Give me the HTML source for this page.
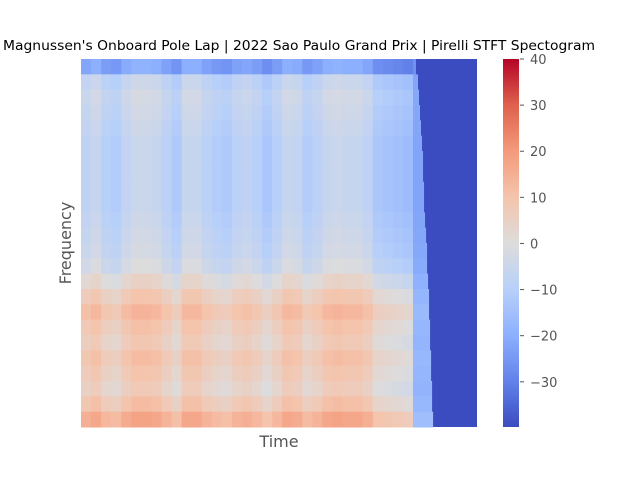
<!DOCTYPE html>
<html><head><meta charset="utf-8"><style>
body{margin:0;background:#fff}
svg text{font-family:"DejaVu Sans","Liberation Sans",sans-serif}
</style></head><body>
<svg id="chart" width="640" height="480" viewBox="0 0 640 480">
<text x="299" y="50" text-anchor="middle" font-size="13.5" textLength="592" lengthAdjust="spacingAndGlyphs" fill="#000">Magnussen's Onboard Pole Lap | 2022 Sao Paulo Grand Prix | Pirelli STFT Spectogram</text>
<rect x="81" y="59" width="396" height="368" fill="#3b4cc0"/>
<g id="cells"></g>
<text x="279" y="447" text-anchor="middle" font-size="16" fill="#555">Time</text>
<text transform="translate(71,243) rotate(-90)" text-anchor="middle" font-size="16" fill="#555">Frequency</text>
<defs><linearGradient id="cg" x1="0" y1="1" x2="0" y2="0">
<stop offset="0" stop-color="#3b4cc0"/><stop offset="0.125" stop-color="#6282ea"/><stop offset="0.25" stop-color="#8db0fe"/><stop offset="0.375" stop-color="#b8d0f9"/><stop offset="0.5" stop-color="#dddcdc"/><stop offset="0.625" stop-color="#f5c4ac"/><stop offset="0.75" stop-color="#f49a7b"/><stop offset="0.875" stop-color="#de614d"/><stop offset="1" stop-color="#b40426"/></linearGradient></defs>
<rect x="503" y="59" width="16" height="368" fill="url(#cg)"/>
<g id="cticks"></g>
</svg>
<script>
const rowBase=[-22,-7,-5,-6,-7,-8,-8,-8,-8,-8,-7,-6,-5,-3,2,7,11,8,6,9,7,5,9,15];
const colOffset=[0,2,-2,-3,1,3,3,2,-1,-4,2,2,-1,-3,-4,-1,0,-2,-5,-2,2,1,-3,-1,2,3,2,2,0,-5,-6,-7,-8];
const tailLen=[0.3,0.5,0.6,0.7,0.8,0.9,1.0,1.0,1.1,1.1,1.2,1.3,1.4,1.4,1.5,1.6,1.6,1.7,1.7,1.8,1.8,1.9,1.9,2.0];
const tailValue=-20;
const cbTicks=[40,30,20,10,0,-10,-20,-30];
const vmin=-39.8,vmax=40;
const X0=81,colW=10.06,Y0=59,H=368;
const rowH=H/rowBase.length;
const xCol=c=>X0+c*colW;
const yRow=r=>Y0+r*rowH;
const stops=[[59,76,192],[98,130,234],[141,176,254],[184,208,249],[221,220,220],[245,196,173],[244,154,123],[222,96,77],[180,4,38]];
function cmap(v){let t=(v-vmin)/(vmax-vmin);t=Math.max(0,Math.min(1,t))*8;const i=Math.min(7,Math.floor(t)),f=t-i;const a=stops[i],b=stops[i+1];return `rgb(${a.map((x,k)=>Math.round(x+(b[k]-x)*f)).join(',')})`;}
const NS='http://www.w3.org/2000/svg';
const g=document.getElementById('cells');
rowBase.forEach((rb,r)=>{
  colOffset.forEach((co,c)=>{
    const el=document.createElementNS(NS,'rect');
    el.setAttribute('x',xCol(c));el.setAttribute('y',yRow(r));
    el.setAttribute('width',colW+0.5);el.setAttribute('height',rowH+0.5);
    el.setAttribute('fill',cmap(rb+co));
    
    
    g.appendChild(el);
  });
  const t=document.createElementNS(NS,'rect');
  t.setAttribute('x',xCol(colOffset.length));t.setAttribute('y',yRow(r));
  t.setAttribute('width',tailLen[r]*colW);t.setAttribute('height',rowH+0.5);
  t.setAttribute('fill',cmap(tailValue+rb*0.3));
  
  
  g.appendChild(t);
});
const ct=document.getElementById('cticks');
cbTicks.forEach(v=>{
  const y=Y0+(vmax-v)/(vmax-vmin)*H;
  const l=document.createElementNS(NS,'line');
  l.setAttribute('x1',520);l.setAttribute('x2',524);l.setAttribute('y1',y);l.setAttribute('y2',y);
  l.setAttribute('stroke','#555');
  
  
  ct.appendChild(l);
  const tx=document.createElementNS(NS,'text');
  tx.setAttribute('x',530);tx.setAttribute('y',y+5);tx.setAttribute('font-size','13');tx.setAttribute('fill','#555');
  tx.textContent=v<0?'\u2212'+Math.abs(v):String(v);
  
  
  ct.appendChild(tx);
});
</script>
</body></html>
